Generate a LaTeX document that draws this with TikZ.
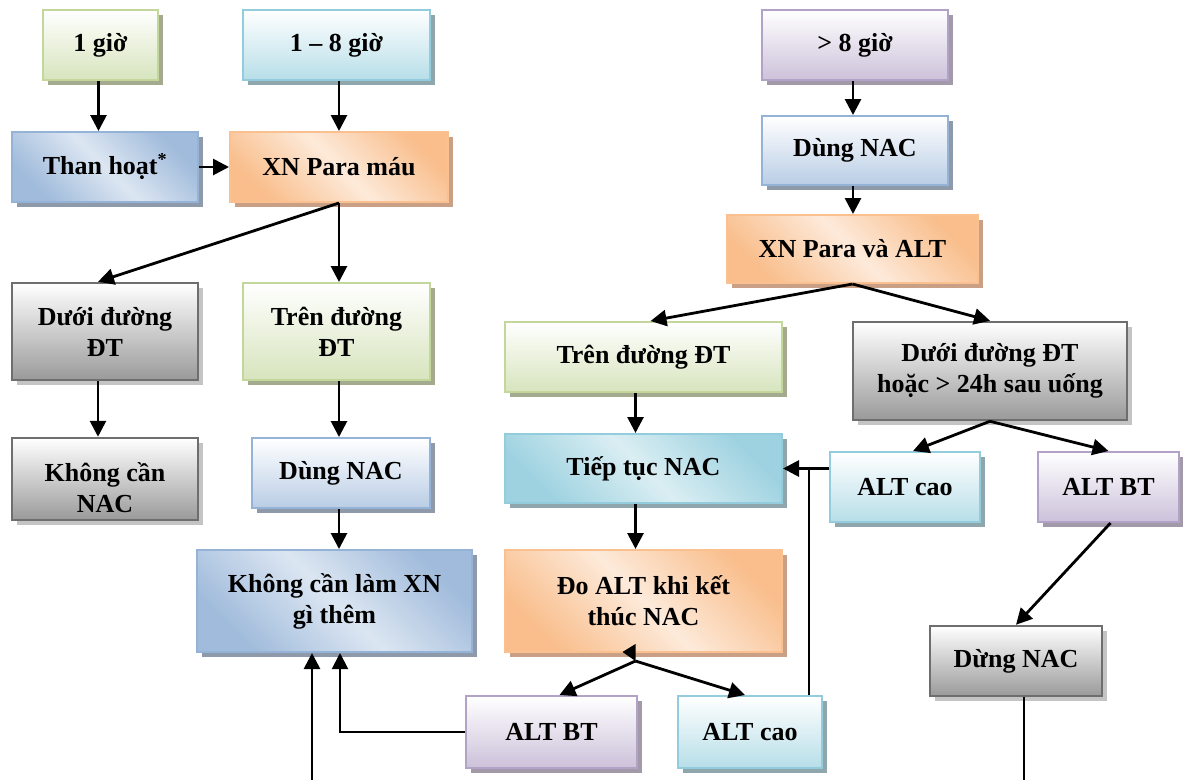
\documentclass[tikz,border=0pt]{standalone}
\usepackage{fontspec}
\setmainfont{Liberation Serif}
\usetikzlibrary{arrows.meta,shadows,calc}
\definecolor{grnB}{HTML}{C3D69B}
\definecolor{grnF}{HTML}{D7E4BD}
\definecolor{grnS}{HTML}{A3AA8E}
\definecolor{cyaB}{HTML}{93CDDD}
\definecolor{cyaF}{HTML}{B7DEE8}
\definecolor{cyaL}{HTML}{DAEEF3}
\definecolor{cyaS}{HTML}{8FA6AC}
\definecolor{bluB}{HTML}{95B3D7}
\definecolor{bluF}{HTML}{B9CDE5}
\definecolor{bluL}{HTML}{DCE6F2}
\definecolor{bluS}{HTML}{8E9AAA}
\definecolor{purB}{HTML}{B3A2C7}
\definecolor{purF}{HTML}{CCC1DA}
\definecolor{purS}{HTML}{A29AA8}
\definecolor{oraB}{HTML}{FAC090}
\definecolor{oraF}{HTML}{F9BE8C}
\definecolor{oraL}{HTML}{FDEADA}
\definecolor{oraS}{HTML}{C9A085}
\definecolor{gryB}{HTML}{6E6E6E}
\definecolor{gryF}{HTML}{9A9A9A}
\definecolor{gryS}{HTML}{C4C4C4}
\tikzset{
  box/.style={line width=2pt, inner sep=0pt, align=center, text=black,
    font=\bfseries\fontsize{26}{31}\selectfont},
  shad/.style={drop shadow={shadow xshift=5pt, shadow yshift=-5pt, fill=#1, opacity=1}},
  vg/.style n args={3}{box, draw=#1, shad=#3, top color=white, bottom color=#2},
  dg/.style n args={4}{box, draw=#1, shad=#4, top color=#2, bottom color=#2, middle color=#3, shading angle=-45},
  gbox/.style={vg={grnB}{grnF}{grnS}},
  cbox/.style={vg={cyaB}{cyaF}{cyaS}},
  bbox/.style={vg={bluB}{bluF}{bluS}},
  pbox/.style={vg={purB}{purF}{purS}},
  kbox/.style={vg={gryB}{gryF}{gryS}, line width=2.5pt},
  dbbox/.style={dg={bluB}{bluB!90}{bluL}{bluS}},
  dcbox/.style={dg={cyaB}{cyaB!90}{cyaL}{cyaS}},
  dobox/.style={dg={oraB}{oraF}{oraL}{oraS}},
  txt/.style={inner sep=0pt, align=center, text=black, font=\bfseries\fontsize{26}{31}\selectfont},
  arr/.style={line width=2.8pt, -{Triangle[length=16pt,width=16pt]}},
  plain/.style={line width=2pt},
}
\begin{document}
\begin{tikzpicture}[x=1pt,y=-1pt]
\useasboundingbox[fill=white] (0,0) rectangle (1183,780);
% left column
\node[gbox, minimum width=115pt, minimum height=70pt] (g1) at (100.5,45) {1 giờ};
\node[cbox, minimum width=187pt, minimum height=70pt] (g18) at (336.5,45) {1 -- 8 giờ};
\node[dbbox, minimum width=186pt, minimum height=70pt] (than) at (105,167) {Than hoạt\textsuperscript{*}};
\node[dobox, minimum width=218pt, minimum height=70pt] (xnp) at (339,167) {XN Para máu};
\node[kbox, minimum width=186pt, minimum height=97pt] (duoiL) at (105,331.5) {Dưới đường\\ĐT};
\node[gbox, minimum width=187pt, minimum height=97pt] (trenL) at (336.5,331.5) {Trên đường\\ĐT};
\node[kbox, minimum width=186pt, minimum height=82pt] (khongNAC) at (105,479) {};
\begin{scope}
\clip (12,436) rectangle (198,513);
\node[txt] (khongNACtxt) at (105,487.5) {Không cần\\NAC};
\end{scope}
\node[bbox, minimum width=178pt, minimum height=70pt] (dungL) at (341,473) {Dùng NAC};
\node[dbbox, minimum width=275pt, minimum height=102pt] (khongXN) at (334.5,601) {Không cần làm XN\\gì thêm};
% right part
\node[pbox, minimum width=186pt, minimum height=70pt] (g8) at (855,45) {> 8 giờ};
\node[bbox, minimum width=186pt, minimum height=69pt] (dungR) at (855,150.5) {Dùng NAC};
\node[dobox, minimum width=251pt, minimum height=68pt] (xnpALT) at (852.5,249) {XN Para và ALT};
\node[gbox, minimum width=277pt, minimum height=70pt] (trenR) at (643.5,357) {Trên đường ĐT};
\node[kbox, minimum width=274pt, minimum height=98pt] (duoiR) at (990,371) {Dưới đường ĐT\\hoặc > 24h sau uống};
\node[dcbox, minimum width=277pt, minimum height=69pt] (tiep) at (643.5,468.5) {Tiếp tục NAC};
\node[cbox, minimum width=150pt, minimum height=70pt] (altcaoR) at (905,487) {ALT cao};
\node[pbox, minimum width=141pt, minimum height=70pt] (altbtR) at (1108.5,487) {ALT BT};
\node[dobox, minimum width=277pt, minimum height=102pt] (doALT) at (643.5,601) {Đo ALT khi kết\\thúc NAC};
\node[pbox, minimum width=171pt, minimum height=72pt] (altbtB) at (551.5,732) {ALT BT};
\node[cbox, minimum width=144pt, minimum height=72pt] (altcaoB) at (750,732) {ALT cao};
\node[kbox, minimum width=172pt, minimum height=70pt] (dungNAC) at (1016,661) {Dừng NAC};
% connectors
\draw[arr] ($(g1.south)+(-2,0)$) -- ($(g1.south |- than.north)+(-2,0)$);
\draw[arr] (g18.south -| xnp.north) -- (xnp.north);
\draw[arr] (than.east) -- (xnp.west);
\draw[arr] (xnp.south) -- ($(duoiL.north)+(-7,0)$);
\draw[arr] (xnp.south) -- (xnp.south |- trenL.north);
\draw[arr] ($(duoiL.south)+(-7,0)$) -- ($(khongNAC.north)+(-7,0)$);
\draw[arr] (trenL.south -| xnp.south) -- (dungL.north -| xnp.south);
\draw[arr] (dungL.south -| xnp.south) -- (khongXN.north -| xnp.south);
\draw[arr] ($(g8.south)+(-2,0)$) -- ($(dungR.north)+(-2,0)$);
\draw[arr] ($(dungR.south)+(-2,0)$) -- ($(dungR.south |- xnpALT.north)+(-2,0)$);
\draw[arr] (xnpALT.south) -- ($(trenR.north)+(7,0)$);
\draw[arr] (xnpALT.south) -- (duoiR.north);
\draw[arr] ($(trenR.south)+(-8,0)$) -- ($(tiep.north)+(-8,0)$);
\draw[arr] (duoiR.south) -- ($(altcaoR.north)+(8,0)$);
\draw[arr] (duoiR.south) -- (altbtR.north);
\draw[arr] (altcaoR.west |- tiep.east) -- (tiep.east);
\coordinate (vup) at ($(altcaoB.north east)+(-14,0)$);
\draw[plain] (vup) -- (vup |- tiep.east);
\draw[arr] ($(tiep.south)+(-8,0)$) -- ($(doALT.north)+(-8,0)$);
\coordinate (j) at ($(doALT.south)+(-8,8)$);
\fill (j) -- ++(0,-17) -- ++(-13,8) -- cycle;
\draw[arr] (j) -- ($(altbtB.north)+(8,0)$);
\draw[arr] (j) -- ($(altcaoB.north)+(-5,0)$);
\coordinate (lk) at ($(khongXN.south)+(5.5,0)$);
\draw[plain, -{Triangle[length=16pt,width=16pt]}] (altbtB.west) -| (lk);
\coordinate (bl) at (312,780);
\draw[arr] (bl) -- (bl |- khongXN.south);
\draw[arr] ($(altbtR.south)+(2,0)$) -- (dungNAC.north);
\coordinate (bd) at (1024,780);
\draw[plain] (bd |- dungNAC.south) -- (bd);
\end{tikzpicture}
\end{document}
